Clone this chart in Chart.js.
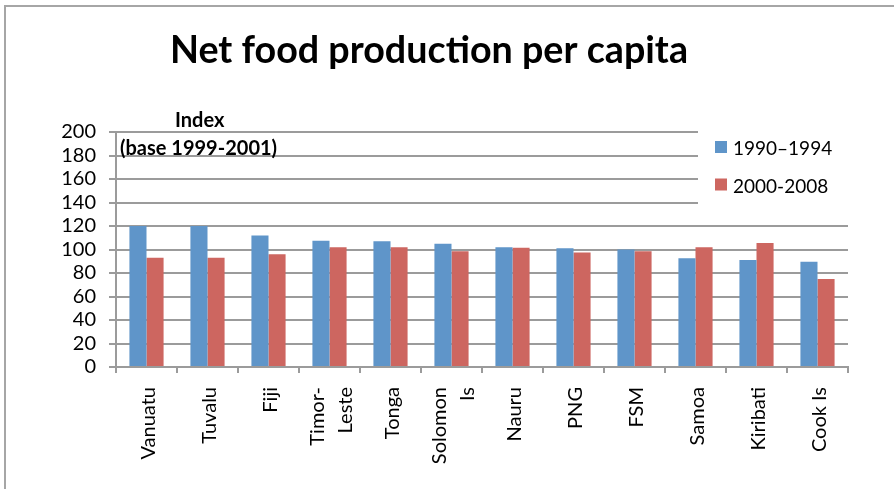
<!DOCTYPE html>
<html>
<head>
<meta charset="utf-8">
<script src="https://cdn.jsdelivr.net/npm/chart.js@4.4.1/dist/chart.umd.min.js"></script>
<style>
html,body{margin:0;padding:0;background:#fff;}
#wrap{width:894px;height:489px;position:relative;}
</style>
</head>
<body>
<div id="wrap"><canvas id="c" width="894" height="489"></canvas></div>
<script>
const categories = ['Vanuatu','Tuvalu','Fiji',['Timor-','Leste'],'Tonga',['Solomon','Is'],'Nauru','PNG','FSM','Samoa','Kiribati','Cook Is'];
const seriesNames = ['1990\u20131994','2000-2008'];
const values1990 = [120,120,112,107.5,107,105,102,101,100,92.5,91,89.5];
const values2000 = [93,93,96,102,102,98.5,101.5,97.5,98.5,102,105.5,75];
const yTicks = [0,20,40,60,80,100,120,140,160,180,200];
const titleText = 'Net food production per capita';
const axisTitleLines = ['Index','(base 1999-2001)'];

const FONT = 'Lato, "Open Sans", "Liberation Sans", sans-serif';
const GRID = '#9b9b9b';
const colors = ['#5f95c9','#cd6660'];

const decor = {
  id: 'decor',
  beforeDraw(chart) {
    const ctx = chart.ctx;
    ctx.save();
    ctx.fillStyle = '#fff';
    ctx.fillRect(0,0,chart.width,chart.height);
    ctx.strokeStyle = '#a6a6a6';
    ctx.lineWidth = 2;
    ctx.beginPath();
    ctx.moveTo(5, chart.height);
    ctx.lineTo(5, 6);
    ctx.lineTo(chart.width, 6);
    ctx.stroke();
    ctx.restore();
    // center multi-line rotated category labels on their tick
    const xs = chart.scales.x;
    const items = xs.getLabelItems(chart.chartArea);
    items.forEach(it => {
      if (Array.isArray(it.label) && !it._centered) {
        const lh = it.font.lineHeight;
        it.options.translation[0] -= (it.label.length - 1) * lh / 2;
        it._centered = true;
      }
    });
  },
  beforeDatasetsDraw(chart) {
    const ctx = chart.ctx;
    const a = chart.chartArea;
    const ys = chart.scales.y;
    ctx.save();
    ctx.fillStyle = '#fff';
    ctx.fillRect(698, a.top - 6, a.right - 698 + 2, ys.getPixelForValue(140) - a.top + 14);
    ctx.restore();
  },
  afterDraw(chart) {
    const ctx = chart.ctx;
    ctx.save();
    ctx.fillStyle = '#000';
    ctx.textBaseline = 'alphabetic';
    ctx.textAlign = 'center';
    ctx.font = 'bold 38px ' + FONT;
    ctx.fillText(titleText, 429, 63, 518);
    ctx.textAlign = 'left';
    ctx.font = 'bold 20px ' + FONT;
    ctx.fillText(axisTitleLines[0], 175, 127);
    ctx.fillText(axisTitleLines[1], 120, 155);
    ctx.font = '19px ' + FONT;
    const ly = [141, 178.5];
    chart.data.datasets.forEach((ds, i) => {
      ctx.fillStyle = ds.backgroundColor;
      ctx.fillRect(715, ly[i], 12, 12);
      ctx.fillStyle = '#000';
      ctx.fillText(ds.label, 733, ly[i] + 14);
    });
    ctx.restore();
  }
};

new Chart(document.getElementById('c'), {
  type: 'bar',
  data: {
    labels: categories,
    datasets: [
      {label: seriesNames[0], data: values1990, backgroundColor: colors[0], borderWidth: 0},
      {label: seriesNames[1], data: values2000, backgroundColor: colors[1], borderWidth: 0}
    ]
  },
  options: {
    responsive: false,
    animation: false,
    devicePixelRatio: 1,
    layout: {padding: {top: 132, left: 0, right: 46, bottom: 0}},
    plugins: {legend: {display: false}, title: {display: false}, tooltip: {enabled: false}},
    datasets: {bar: {categoryPercentage: 0.56, barPercentage: 1.0}},
    scales: {
      x: {
        grid: {drawOnChartArea: false, drawTicks: true, tickLength: 6, offset: true, color: GRID, lineWidth: 2},
        border: {color: GRID, width: 2},
        ticks: {color: '#000', font: {family: FONT, size: 20, lineHeight: 1.4}, minRotation: 90, maxRotation: 90, padding: 14, labelOffset: 2, autoSkip: false},
        afterFit(s) { s.height = 122; }
      },
      y: {
        min: 0, max: 200,
        afterBuildTicks(s) { s.ticks = yTicks.map(v => ({value: v})); },
        grid: {color: GRID, lineWidth: 2, tickLength: 7, drawTicks: true},
        border: {color: GRID, width: 2},
        ticks: {color: '#000', font: {family: FONT, size: 20}, padding: 13, autoSkip: false},
        afterFit(s) { s.width = 116; }
      }
    }
  },
  plugins: [decor]
});
</script>
</body>
</html>
